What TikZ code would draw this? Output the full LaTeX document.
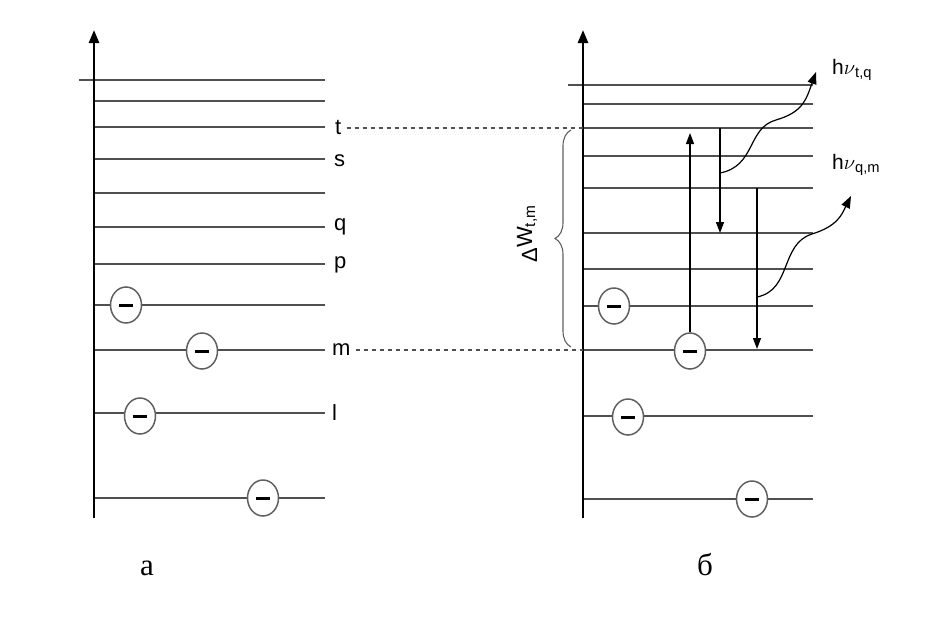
\documentclass[tikz,border=0pt]{standalone}
\usepackage{fontspec}
\setmainfont{Liberation Serif}
\setsansfont{Liberation Sans}
\usetikzlibrary{arrows.meta,decorations.pathreplacing,shapes.geometric}
\definecolor{lvl}{HTML}{505050}
\definecolor{egray}{HTML}{606060}
\begin{document}
\begin{tikzpicture}[x=1pt,y=-1pt,
  levelline/.style={draw=lvl,line width=1.7pt},
  axisline/.style={draw=black,line width=2.6pt,-{Triangle[width=10pt,length=13pt]}},
  electron/.style={ellipse,draw=egray,line width=1.5pt,fill=white,minimum width=31pt,minimum height=36pt,inner sep=0pt},
  lvllabel/.style={anchor=west,inner sep=0pt,font=\sffamily\fontsize{22}{26}\selectfont},
  photonlabel/.style={anchor=west,inner sep=0pt,font=\sffamily\fontsize{21}{25}\selectfont},
  caption/.style={inner sep=0pt,font=\rmfamily\fontsize{31}{34}\selectfont},
  transition/.style={draw=black,line width=1.3pt,-{Triangle[width=8pt,length=11pt]}},
  photon/.style={draw=black,line width=1.2pt,-{Triangle[width=9pt,length=12pt]}},
  guide/.style={draw=lvl,line width=1.3pt,dash pattern=on 4pt off 4pt},
  bracestyle/.style={draw=egray,line width=1.1pt,decorate,decoration={brace,amplitude=16pt}}
]
\useasboundingbox (0,0) rectangle (947,621);
\newcommand{\ebar}{\rule[-1.5pt]{14pt}{3pt}}

% ---------- left panel (a) ----------
\draw[levelline] (79,80) -- (325,80);
\foreach \yy in {101,127,159,193,227,264,305,350,413,498}
  \draw[levelline] (94,\yy) -- (325,\yy);
\draw[axisline] (94,518) -- (94,30);
\node[lvllabel] (lt) at (335,127) {t};
\node[lvllabel] (ls) at (334,161) {s};
\node[lvllabel] (lq) at (334,227) {q};
\node[lvllabel] (lp) at (334,265) {p};
\node[lvllabel] (lm) at (332,350) {m};
\node[lvllabel] (ll) at (332,413) {l};
\node[electron] (ea1) at (126,305) {\ebar};
\node[electron] (ea2) at (202,351) {\ebar};
\node[electron] (ea3) at (140,416) {\ebar};
\node[electron] (ea4) at (263,498) {\ebar};
\node[caption] (capa) at (147,568) {а};

% ---------- right panel (b) ----------
\draw[levelline] (568,85) -- (813,85);
\foreach \yy in {104,128,156,188,233,269,306,350,416,499}
  \draw[levelline] (583,\yy) -- (813,\yy);
\draw[axisline] (583,518) -- (583,30);
\coordinate (rt) at (583,128);
\coordinate (rm) at (583,350);
\node[electron] (eb1) at (614,306) {\ebar};
\node[electron] (eb2) at (690,351) {\ebar};
\node[electron] (eb3) at (628,417) {\ebar};
\node[electron] (eb4) at (752,499) {\ebar};
\node[caption] (capb) at (705,565) {б};

% guides
\draw[guide] ([xshift=5pt]lt.east |- rt) -- (rt);
\draw[guide] ([xshift=5pt]lm.east |- rm) -- (rm);

% brace and label
\coordinate (bbot) at (571,347);
\coordinate (btop) at (571,130);
\draw[bracestyle] (bbot) -- (btop);
\node[rotate=90,inner sep=0pt,font=\sffamily\fontsize{22}{26}\selectfont] (dw) at (527,234) {Δ\raisebox{5pt}{W\textsubscript{t,m}}};

% transitions
\coordinate (upend) at (690,133);
\draw[transition] (eb2.north) -- (upend);
\coordinate (d1s) at (720,128);
\coordinate (d1e) at (720,233);
\draw[transition] (d1s) -- (d1e);
\coordinate (d2s) at (757,188);
\coordinate (d2e) at (757,349);
\draw[transition] (d2s) -- (d2e);

% photons
\coordinate (w1s) at (720,173);
\coordinate (w1m) at (776,120);
\coordinate (w1e) at (816,72);
\draw[photon] (w1s) .. controls (756,166) and (747,128) .. (w1m) .. controls (803,112) and (806,100) .. (w1e);
\coordinate (w2s) at (757,297);
\coordinate (w2m) at (812,234);
\coordinate (w2e) at (851,196);
\draw[photon] (w2s) .. controls (792,290) and (780,244) .. (w2m) .. controls (838,226) and (842,214) .. (w2e);
\node[photonlabel] (hv1) at (832,70) {h$\nu$\textsubscript{t,q}};
\node[photonlabel] (hv2) at (832,165) {h$\nu$\textsubscript{q,m}};
\end{tikzpicture}
\end{document}
